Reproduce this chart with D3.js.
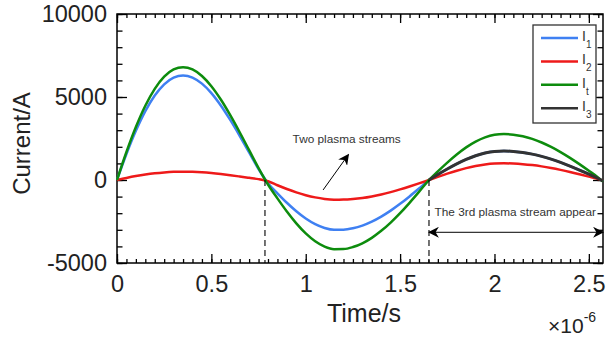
<!DOCTYPE html>
<html>
<head>
<meta charset="utf-8">
<script src="https://cdn.jsdelivr.net/npm/d3@7/dist/d3.min.js"></script>
<style>
  body { margin: 0; background: #fff; }
  svg { display: block; }
  text { font-family: Arial, "Liberation Sans", Helvetica, sans-serif; }
</style>
</head>
<body>
<div id="chart"></div>
<script>
// ---- data (time in units of 1e-6 s, current in A) ----
const timeUs = [0, 0.05, 0.1, 0.15, 0.2, 0.25, 0.3, 0.35, 0.4, 0.45, 0.5, 0.55, 0.6, 0.65, 0.7, 0.75,
  0.8, 0.85, 0.9, 0.95, 1.0, 1.05, 1.1, 1.15, 1.2, 1.25, 1.3, 1.35, 1.4, 1.45, 1.5, 1.55, 1.6, 1.65,
  1.7, 1.75, 1.8, 1.85, 1.9, 1.95, 2.0, 2.05, 2.1, 2.15, 2.2, 2.25, 2.3, 2.35, 2.4, 2.45, 2.5, 2.55, 2.575];

const currentI1 = [0, 1563, 2960, 4147, 5089, 5766, 6171, 6298, 6172, 5806, 5236, 4491, 3618, 2664, 1664, 662,
  -196, -799, -1369, -1882, -2318, -2658, -2889, -3000, -2995, -2908, -2745, -2508, -2205, -1846, -1437, -989, -516, -30,
  327, 662, 971, 1241, 1460, 1622, 1719, 1747, 1723, 1661, 1560, 1425, 1257, 1061, 841, 602, 350, 90, -63];

const currentI2 = [0, 124, 235, 329, 404, 457, 490, 500, 490, 461, 415, 356, 287, 211, 132, 52,
  -77, -315, -540, -742, -914, -1048, -1139, -1183, -1181, -1147, -1083, -989, -870, -728, -567, -390, -204, -12,
  189, 381, 559, 714, 841, 934, 990, 1006, 992, 956, 899, 821, 724, 611, 485, 347, 202, 52, -36];

const currentIt = [0, 1687, 3195, 4476, 5493, 6224, 6661, 6798, 6662, 6267, 5651, 4847, 3905, 2875, 1796, 714,
  -272, -1109, -1901, -2614, -3219, -3691, -4012, -4166, -4160, -4039, -3812, -3484, -3063, -2564, -1996, -1374, -717, -41,
  519, 1050, 1539, 1967, 2315, 2572, 2725, 2770, 2732, 2633, 2474, 2260, 1993, 1683, 1334, 955, 555, 142, -100];

// I3 only exists once the third stream appears
const timeI3Us = [1.653, 1.7, 1.75, 1.8, 1.85, 1.9, 1.95, 2.0, 2.05, 2.1, 2.15, 2.2, 2.25, 2.3, 2.35, 2.4, 2.45, 2.5, 2.55, 2.575];
const currentI3 = [0, 327, 662, 971, 1241, 1460, 1622, 1719, 1747, 1723, 1661, 1560, 1425, 1257, 1061, 841, 602, 350, 90, -63];

const seriesNames = ['1', '2', 't', '3'];
const seriesColors = ['#3f80f2', '#ee1a1a', '#0d8c0d', '#333333'];

const xTicks = [0, 0.5, 1, 1.5, 2, 2.5];
const yTicks = [-5000, 0, 5000, 10000];

// moments the plasma streams change (1e-6 s)
const streamTimes = [0.784, 1.653];

// ---- layout ----
const W = 608, H = 337;
const margin = { top: 14, right: 5, bottom: 74, left: 117 };
const innerW = W - margin.left - margin.right;
const innerH = H - margin.top - margin.bottom;

const svg = d3.select('#chart').append('svg')
  .attr('width', W).attr('height', H);

const g = svg.append('g')
  .attr('transform', `translate(${margin.left},${margin.top})`);

const x = d3.scaleLinear().domain([0, 2.575]).range([0, innerW]);
const y = d3.scaleLinear().domain([-5000, 10000]).range([innerH, 0]);

// ---- ticks (all pointing inwards, on all four sides) ----
const xMinor = d3.range(0, 2.576, 0.05);
const yMinor = d3.range(-5000, 10001, 1000);

function styleAxis(sel) {
  sel.select('.domain').remove();
  sel.selectAll('line').attr('stroke', '#000').attr('stroke-width', 1.3);
  sel.selectAll('text').attr('font-size', 23.5).attr('fill', '#222');
}

// minor ticks
g.append('g').attr('transform', `translate(0,${innerH})`)
  .call(d3.axisBottom(x).tickValues(xMinor).tickSizeInner(-4).tickSizeOuter(0).tickFormat(''))
  .call(styleAxis);
g.append('g')
  .call(d3.axisTop(x).tickValues(xMinor).tickSizeInner(-4).tickSizeOuter(0).tickFormat(''))
  .call(styleAxis);
g.append('g')
  .call(d3.axisLeft(y).tickValues(yMinor).tickSizeInner(-5.5).tickSizeOuter(0).tickFormat(''))
  .call(styleAxis);
g.append('g').attr('transform', `translate(${innerW},0)`)
  .call(d3.axisRight(y).tickValues(yMinor).tickSizeInner(-5.5).tickSizeOuter(0).tickFormat(''))
  .call(styleAxis);

// major ticks + labels
g.append('g').attr('transform', `translate(0,${innerH})`)
  .call(d3.axisBottom(x).tickValues(xTicks).tickSizeInner(-9).tickSizeOuter(0).tickPadding(12)
    .tickFormat(d => String(d)))
  .call(styleAxis);
g.append('g')
  .call(d3.axisTop(x).tickValues(xTicks).tickSizeInner(-9).tickSizeOuter(0).tickFormat(''))
  .call(styleAxis);
g.append('g')
  .call(d3.axisLeft(y).tickValues(yTicks).tickSizeInner(-10).tickSizeOuter(0).tickPadding(10)
    .tickFormat(d => String(d)))
  .call(styleAxis);
g.append('g').attr('transform', `translate(${innerW},0)`)
  .call(d3.axisRight(y).tickValues(yTicks).tickSizeInner(-10).tickSizeOuter(0).tickFormat(''))
  .call(styleAxis);

// axis box
g.append('rect')
  .attr('width', innerW).attr('height', innerH)
  .attr('fill', 'none').attr('stroke', '#000').attr('stroke-width', 1.5);

// ---- curves ----
const line = d3.line()
  .x(d => x(d[0])).y(d => y(d[1]))
  .curve(d3.curveMonotoneX);

const seriesData = [
  d3.zip(timeUs, currentI1),
  d3.zip(timeUs, currentI2),
  d3.zip(timeUs, currentIt),
  d3.zip(timeI3Us, currentI3)
];

const plot = g.append('g');
plot.selectAll('path.curve')
  .data(seriesData)
  .join('path')
  .attr('class', 'curve')
  .attr('d', line)
  .attr('fill', 'none')
  .attr('stroke', (d, i) => seriesColors[i])
  .attr('stroke-width', (d, i) => i === 3 ? 3 : 2.5); // I3 fully hides I1 where they coincide

// dashed markers where the stream count changes
g.selectAll('line.stream')
  .data(streamTimes)
  .join('line')
  .attr('class', 'stream')
  .attr('x1', d => x(d)).attr('x2', d => x(d))
  .attr('y1', y(0)).attr('y2', innerH)
  .attr('stroke', '#000').attr('stroke-width', 1.1)
  .attr('stroke-dasharray', '6,4');

// ---- annotations ----
const defs = svg.append('defs');
defs.append('marker')
  .attr('id', 'head')
  .attr('viewBox', '0 0 10 10')
  .attr('refX', 9).attr('refY', 5)
  .attr('markerWidth', 11).attr('markerHeight', 11)
  .attr('markerUnits', 'userSpaceOnUse')
  .attr('orient', 'auto-start-reverse')
  .append('path')
  .attr('d', 'M0,0 L10,5 L0,10 L3,5 Z')
  .attr('fill', '#000');

g.append('line')
  .attr('x1', x(1.092)).attr('y1', y(-600))
  .attr('x2', x(1.226)).attr('y2', y(1530))
  .attr('stroke', '#000').attr('stroke-width', 1)
  .attr('marker-end', 'url(#head)');

g.append('text')
  .attr('x', x(1.217)).attr('y', y(2200))
  .attr('text-anchor', 'middle')
  .attr('font-size', 11.8).attr('fill', '#333')
  .text('Two plasma streams');

g.append('line')
  .attr('x1', x(streamTimes[1])).attr('y1', y(-3150))
  .attr('x2', x(2.575)).attr('y2', y(-3150))
  .attr('stroke', '#000').attr('stroke-width', 1)
  .attr('marker-start', 'url(#head)')
  .attr('marker-end', 'url(#head)');

g.append('text')
  .attr('x', x(2.11)).attr('y', y(-2150))
  .attr('text-anchor', 'middle')
  .attr('font-size', 11.8).attr('fill', '#333')
  .text('The 3rd plasma stream appear');

// ---- axis titles ----
svg.append('text')
  .attr('x', margin.left + innerW / 2 + 4).attr('y', 322)
  .attr('text-anchor', 'middle')
  .attr('font-size', 25).attr('fill', '#222')
  .text('Time/s');

svg.append('text')
  .attr('transform', `translate(30,${margin.top + y(2200)}) rotate(-90)`)
  .attr('text-anchor', 'middle')
  .attr('font-size', 24).attr('fill', '#222')
  .text('Current/A');

// exponent note below the x axis
const expo = svg.append('text')
  .attr('x', 548).attr('y', 333)
  .attr('fill', '#222');
expo.append('tspan').attr('font-size', 21).text('\u00d710');
expo.append('tspan').attr('font-size', 14).attr('dy', -11).text('-6');
</script>
<script>
// ---- legend ----
(function () {
  const g = d3.select('#chart svg g');
  const legend = g.append('g').attr('transform', `translate(${533 - 117},${25 - 14})`);
  legend.append('rect')
    .attr('width', 63).attr('height', 98)
    .attr('fill', '#fff').attr('stroke', '#333').attr('stroke-width', 1.3);

  const rows = legend.selectAll('g.row')
    .data(seriesNames)
    .join('g')
    .attr('class', 'row')
    .attr('transform', (d, i) => `translate(0,${13 + i * 23.4})`);

  rows.append('line')
    .attr('x1', 8).attr('x2', 45)
    .attr('stroke', (d, i) => seriesColors[i])
    .attr('stroke-width', 2.5);

  const lbl = rows.append('text')
    .attr('x', 49).attr('y', 3)
    .attr('fill', '#333');
  lbl.append('tspan').attr('font-size', 14).text('I');
  lbl.append('tspan').attr('font-size', 10).attr('dy', 7).text(d => d);
})();
</script>
</body>
</html>
